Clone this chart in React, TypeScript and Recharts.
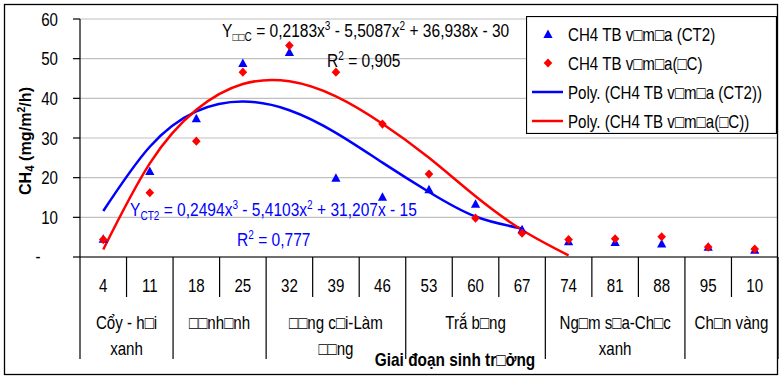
import React from 'react';
import { ComposedChart, Scatter, Line, XAxis, YAxis, CartesianGrid, Legend } from 'recharts';

const categories = ['4', '11', '18', '25', '32', '39', '46', '53', '60', '67', '74', '81', '88', '95', '10'];
const ct2Values = [4.6, 21.7, 35.0, 48.9, 51.7, 20.0, 15.2, 17.1, 13.4, 7.0, 4.0, 3.8, 3.4, 2.6, 1.8];
const dcValues = [4.4, 16.2, 29.2, 46.6, 53.3, 46.6, 33.5, 20.9, 9.8, 6.0, 4.4, 4.6, 5.1, 2.5, 2.0];
const polyCt2Values: (number | null)[] = [11.6, 27.8, 36.7, 39.2, 37.0, 31.3, 23.8, 16.4, 10.2, 7.2, null, null, null, null, null];
const polyDcValues: (number | null)[] = [1.9, 23.6, 37.1, 43.6, 44.3, 40.5, 33.6, 25.0, 15.3, 6.8, 0.4, null, null, null, null];
const groupLabels = [['Cổy - h□i', 'xanh'], ['□□nh□nh'], ['□□ng c□i-Làm', '□□ng'], ['Trắ b□ng'], ['Ng□m s□a-Ch□c', 'xanh'], ['Ch□n vàng']];
const groupSizes = [2, 2, 3, 3, 3, 2];
const yTicks = [0, 10, 20, 30, 40, 50, 60];
const seriesNames = ['CH4 TB v□m□a (CT2)', 'CH4 TB v□m□a(□C)', 'Poly. (CH4 TB v□m□a (CT2))', 'Poly. (CH4 TB v□m□a(□C))'];

const rows = categories.map((c, i) => ({
  x: i + 1,
  label: c,
  ct2: ct2Values[i],
  dc: dcValues[i],
  pCt2: polyCt2Values[i],
  pDc: polyDcValues[i],
}));

const FONT = '"Liberation Sans", Arial, sans-serif';
const SX = 0.84;
const W = 780;
const H = 376;
const PLOT_LEFT = 80;
const PLOT_RIGHT = 778;
const AXIS_Y = 257;
const CW = (PLOT_RIGHT - PLOT_LEFT) / 15;
const BLUE = '#0000ff';
const RED = '#ff0000';

const groupStarts: number[] = [];
{
  let acc = 0;
  groupSizes.forEach((s) => {
    groupStarts.push(acc);
    acc += s;
  });
}

function NText(props: any) {
  const { x, y, anchor = 'start', size = 18, fill = '#000', weight = 'normal', sx = SX, children } = props;
  return (
    <g transform={`translate(${x},${y}) scale(${sx},1)`}>
      <text x={0} y={0} textAnchor={anchor} fontFamily={FONT} fontSize={size} fontWeight={weight} fill={fill}>
        {children}
      </text>
    </g>
  );
}

function XTick(props: any) {
  const { x, payload } = props;
  const i = Math.round(payload.value) - 1;
  const left = x - CW / 2;
  const gi = groupStarts.indexOf(i);
  const isGroupStart = gi >= 0;
  return (
    <g>
      <line x1={left} x2={left} y1={AXIS_Y} y2={AXIS_Y + (isGroupStart ? 102 : 40)} stroke="#000" strokeWidth={1.2} />
      {i === 14 && <line x1={x + CW / 2} x2={x + CW / 2} y1={AXIS_Y} y2={AXIS_Y + 102} stroke="#000" strokeWidth={1.2} />}
      <NText x={x} y={292} anchor="middle">{categories[i]}</NText>
      {isGroupStart &&
        groupLabels[gi].map((t, k) => (
          <NText key={k} x={left + (groupSizes[gi] * CW) / 2} y={329 + k * 26} anchor="middle">
            {t}
          </NText>
        ))}
    </g>
  );
}

function YTick(props: any) {
  const { y, payload } = props;
  if (payload.value === 0) {
    return <NText x={38} y={y + 6} anchor="middle">-</NText>;
  }
  return <NText x={58} y={y + 6.5} anchor="end">{payload.value}</NText>;
}

const TriangleShape = (props: any) => {
  const { cx, cy } = props;
  if (cx == null || cy == null) return null;
  return <path d={`M${cx},${cy - 4.5} L${cx + 4.6},${cy + 4} L${cx - 4.6},${cy + 4} Z`} fill={BLUE} />;
};

const DiamondShape = (props: any) => {
  const { cx, cy } = props;
  if (cx == null || cy == null) return null;
  return <path d={`M${cx},${cy - 4.6} L${cx + 4.3},${cy} L${cx},${cy + 4.6} L${cx - 4.3},${cy} Z`} fill={RED} />;
};

function LegendBox() {
  const rowsY = [18, 47, 76, 105];
  return (
    <svg width={251} height={118} style={{ display: 'block' }}>
      <rect x={0.5} y={0.5} width={250} height={117} fill="#fff" stroke="#000" strokeWidth={1.2} />
      <path d={`M22,${rowsY[0] - 4.5} L26.6,${rowsY[0] + 4} L17.4,${rowsY[0] + 4} Z`} fill={BLUE} />
      <path d={`M22,${rowsY[1] - 4.6} L26.3,${rowsY[1]} L22,${rowsY[1] + 4.6} L17.7,${rowsY[1]} Z`} fill={RED} />
      <line x1={6} x2={37} y1={rowsY[2]} y2={rowsY[2]} stroke={BLUE} strokeWidth={2.5} />
      <line x1={6} x2={37} y1={rowsY[3]} y2={rowsY[3]} stroke={RED} strokeWidth={2.5} />
      {seriesNames.map((n, k) => (
        <NText key={k} x={42} y={rowsY[k] + 6.5}>{n}</NText>
      ))}
    </svg>
  );
}

export default function App() {
  return (
    <div style={{ position: 'absolute', left: 0, top: 0, width: W, height: H, background: '#fff' }}>
      <ComposedChart width={W} height={H} data={rows} margin={{ top: 19, right: W - PLOT_RIGHT, bottom: 0, left: 0 }}>
        <CartesianGrid horizontal={true} vertical={false} stroke="#c0c0c0" strokeWidth={1.2} />
        <XAxis
          type="number"
          dataKey="x"
          domain={[0.5, 15.5]}
          ticks={[1, 2, 3, 4, 5, 6, 7, 8, 9, 10, 11, 12, 13, 14, 15]}
          interval={0}
          height={H - AXIS_Y}
          tickLine={false}
          axisLine={{ stroke: '#000', strokeWidth: 1.2 }}
          tick={<XTick />}
          allowDataOverflow
        />
        <YAxis
          type="number"
          domain={[0, 60]}
          ticks={yTicks}
          width={PLOT_LEFT}
          tickSize={7}
          tickLine={{ stroke: '#000', strokeWidth: 1.2 }}
          axisLine={{ stroke: '#000', strokeWidth: 1.2 }}
          tick={<YTick />}
          interval={0}
        />
        <Scatter name={seriesNames[0]} data={rows} dataKey="ct2" fill={BLUE} shape={<TriangleShape />} isAnimationActive={false} />
        <Scatter name={seriesNames[1]} data={rows} dataKey="dc" fill={RED} shape={<DiamondShape />} isAnimationActive={false} />
        <Line name={seriesNames[2]} type="natural" dataKey="pCt2" stroke={BLUE} strokeWidth={2.5} dot={false} activeDot={false} connectNulls={false} isAnimationActive={false} />
        <Line name={seriesNames[3]} type="natural" dataKey="pDc" stroke={RED} strokeWidth={2.5} dot={false} activeDot={false} connectNulls={false} isAnimationActive={false} />
        <Legend
          layout="vertical"
          align="center"
          verticalAlign="middle"
          content={() => <LegendBox />}
          wrapperStyle={{ position: 'absolute', left: 526, top: 16, width: 251, height: 118 }}
        />
      </ComposedChart>
      <svg width={W} height={H} style={{ position: 'absolute', left: 0, top: 0, pointerEvents: 'none' }} fontFamily={FONT}>
        <rect x={4.5} y={4.5} width={773} height={370} fill="none" stroke="#000" strokeWidth={1.3} />
        <NText x={222} y={37} size={18.5}>
          Y<tspan fontSize={12} dy={4}>□□C</tspan>
          <tspan dy={-4}> = 0,2183x</tspan>
          <tspan fontSize={12} dy={-7}>3</tspan>
          <tspan dy={7}> - 5,5087x</tspan>
          <tspan fontSize={12} dy={-7}>2</tspan>
          <tspan dy={7}> + 36,938x - 30</tspan>
        </NText>
        <NText x={327} y={66.5} size={18.5}>
          R<tspan fontSize={12} dy={-7}>2</tspan>
          <tspan dy={7}> = 0,905</tspan>
        </NText>
        <NText x={130} y={216} size={18.5} fill={BLUE}>
          Y<tspan fontSize={12} dy={4}>CT2</tspan>
          <tspan dy={-4}> = 0,2494x</tspan>
          <tspan fontSize={12} dy={-7}>3</tspan>
          <tspan dy={7}> - 5,4103x</tspan>
          <tspan fontSize={12} dy={-7}>2</tspan>
          <tspan dy={7}> + 31,207x - 15</tspan>
        </NText>
        <NText x={237} y={245.5} size={18.5} fill={BLUE}>
          R<tspan fontSize={12} dy={-7}>2</tspan>
          <tspan dy={7}> = 0,777</tspan>
        </NText>
        <g transform="translate(31,141) rotate(-90) scale(0.95,1)">
          <text x={0} y={0} textAnchor="middle" fontFamily={FONT} fontSize={17} fontWeight="bold" fill="#000">
            CH<tspan fontSize={12} dy={3}>4</tspan>
            <tspan dy={-3}> (mg/m</tspan>
            <tspan fontSize={11} dy={-6}>2</tspan>
            <tspan dy={6}>/h)</tspan>
          </text>
        </g>
        <NText x={455} y={366} anchor="middle" size={17.5} weight="bold" sx={0.88}>Giai đoạn sinh tr□ởng</NText>
      </svg>
    </div>
  );
}
